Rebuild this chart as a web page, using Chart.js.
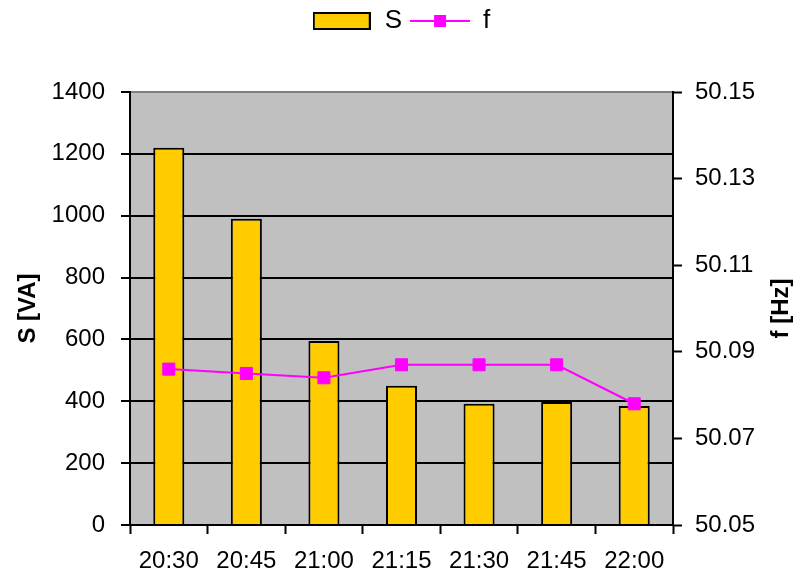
<!DOCTYPE html>
<html>
<head>
<meta charset="utf-8">
<script src="https://cdn.jsdelivr.net/npm/chart.js@4.4.0/dist/chart.umd.min.js"></script>
<style>
html, body { margin: 0; padding: 0; background: #fff; }
#wrap { width: 802px; height: 586px; }
</style>
</head>
<body>
<div id="wrap"><canvas id="chart" width="802" height="586"></canvas></div>
<script>
// data
var times = ['20:30', '20:45', '21:00', '21:15', '21:30', '21:45', '22:00'];
var sValues = [1220, 990, 595, 450, 392, 398, 385];
var fValues = [50.086, 50.085, 50.084, 50.087, 50.087, 50.087, 50.078];
var sTicks = [0, 200, 400, 600, 800, 1000, 1200, 1400];
var fTicks = [50.05, 50.07, 50.09, 50.11, 50.13, 50.15];

var FONT = "'Liberation Sans', Arial, sans-serif";
var GOLD = '#FFCC00';
var PINK = '#FF00FF';

// legend samples
function barSample() {
    var c = document.createElement('canvas');
    c.width = 58; c.height = 18;
    var g = c.getContext('2d');
    g.fillStyle = GOLD;
    g.fillRect(1, 1, 56, 16);
    g.strokeStyle = '#000';
    g.lineWidth = 2;
    g.strokeRect(1, 1, 56, 16);
    return c;
}
function lineSample() {
    var c = document.createElement('canvas');
    c.width = 60; c.height = 14;
    var g = c.getContext('2d');
    g.strokeStyle = PINK;
    g.lineWidth = 2;
    g.beginPath();
    g.moveTo(0, 7); g.lineTo(60, 7);
    g.stroke();
    g.fillStyle = PINK;
    g.fillRect(24, 1, 12, 12);
    return c;
}

var plotBg = {
    id: 'plotBg',
    afterInit: function (chart) {
        var lg = chart.legend;
        var fit = lg.fit;
        lg.fit = function () {
            fit.call(this);
            this.height = 92;
        };
    },
    beforeDraw: function (chart) {
        var a = chart.chartArea;
        var ctx = chart.ctx;
        ctx.save();
        ctx.fillStyle = '#C0C0C0';
        ctx.fillRect(a.left, a.top, a.right - a.left, a.bottom - a.top);
        ctx.restore();
    },
    afterDraw: function (chart) {
        // right axis title, read bottom to top like the left one
        var a = chart.chartArea;
        var ctx = chart.ctx;
        ctx.save();
        ctx.translate(781, (a.top + a.bottom) / 2);
        ctx.rotate(-Math.PI / 2);
        ctx.font = 'bold 24px ' + FONT;
        ctx.fillStyle = '#000';
        ctx.textAlign = 'center';
        ctx.textBaseline = 'middle';
        ctx.fillText('f [Hz]', 0, 0);
        ctx.restore();
    }
};

var ctx = document.getElementById('chart').getContext('2d');
var chart = new Chart(ctx, {
    type: 'bar',
    data: {
        labels: times,
        datasets: [{
            type: 'bar',
            label: 'S',
            data: sValues,
            yAxisID: 'yS',
            backgroundColor: GOLD,
            borderColor: '#000',
            borderWidth: 2,
            categoryPercentage: 0.4,
            barPercentage: 1,
            order: 1
        }, {
            type: 'line',
            label: 'f',
            data: fValues,
            yAxisID: 'yF',
            borderColor: PINK,
            borderWidth: 2,
            pointStyle: 'rect',
            pointRadius: 8.5,
            pointBackgroundColor: PINK,
            pointBorderColor: PINK,
            pointBorderWidth: 1,
            tension: 0,
            order: 0
        }]
    },
    options: {
        responsive: false,
        animation: false,
        devicePixelRatio: 1,
        layout: { padding: 0 },
        plugins: {
            tooltip: { enabled: false },
            legend: {
                position: 'top',
                labels: {
                    usePointStyle: true,
                    pointStyleWidth: 60,
                    padding: 8,
                    color: '#000',
                    font: { family: FONT, size: 26 },
                    generateLabels: function () {
                        return [
                            { text: 'S', pointStyle: barSample(), fontColor: '#000', hidden: false, lineWidth: 0, datasetIndex: 0 },
                            { text: 'f', pointStyle: lineSample(), fontColor: '#000', hidden: false, lineWidth: 0, datasetIndex: 1 }
                        ];
                    }
                }
            }
        },
        scales: {
            x: {
                afterFit: function (s) { s.height = 61; },
                grid: { drawOnChartArea: false, offset: true, tickLength: 9, tickColor: '#000', tickWidth: 2 },
                border: { color: '#000', width: 2 },
                ticks: { color: '#000', padding: 13, maxRotation: 0, font: { family: FONT, size: 24 } }
            },
            yS: {
                position: 'left',
                min: 0,
                max: 1400,
                afterFit: function (s) { s.width = 130; },
                afterBuildTicks: function (s) {
                    s.ticks = sTicks.map(function (v) { return { value: v }; });
                },
                grid: {
                    color: function (c) { return c.tick && c.tick.value === 1400 ? '#808080' : '#000'; },
                    lineWidth: 2,
                    tickLength: 9,
                    tickColor: '#000'
                },
                border: { color: '#000', width: 2 },
                ticks: {
                    color: '#000',
                    padding: 16,
                    font: { family: FONT, size: 24 },
                    callback: function (v) { return String(v); }
                },
                title: {
                    display: true,
                    text: 'S [VA]',
                    color: '#000',
                    padding: { top: 14, bottom: 0 },
                    font: { family: FONT, size: 24, weight: 'bold' }
                }
            },
            yF: {
                position: 'right',
                min: 50.05,
                max: 50.15,
                afterFit: function (s) { s.width = 129; },
                afterBuildTicks: function (s) {
                    s.ticks = fTicks.map(function (v) { return { value: v }; });
                },
                grid: { drawOnChartArea: false, tickLength: 9, tickColor: '#000', tickWidth: 2 },
                border: { color: '#000', width: 2 },
                ticks: {
                    color: '#000',
                    padding: 13,
                    font: { family: FONT, size: 24 },
                    callback: function (v) { return Number(v).toFixed(2); }
                }
            }
        }
    },
    plugins: [plotBg]
});
</script>
</body>
</html>
